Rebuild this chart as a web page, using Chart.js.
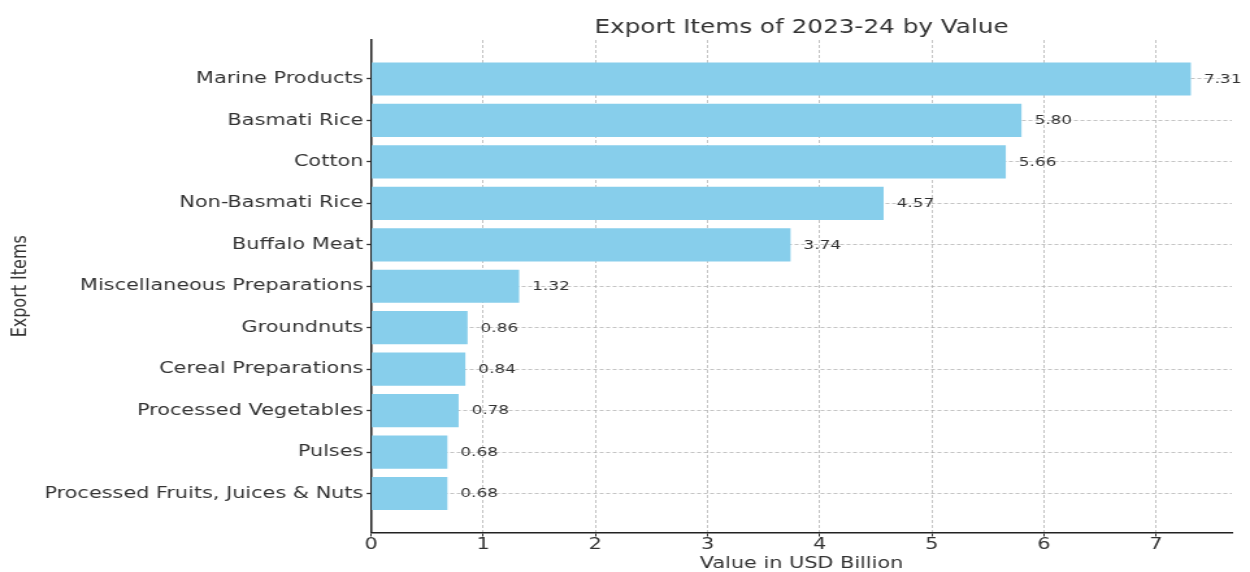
<!DOCTYPE html>
<html>
<head>
<meta charset="utf-8">
<script src="https://cdn.jsdelivr.net/npm/chart.js@4"></script>
<style>
html,body{margin:0;padding:0;background:#fff;overflow:hidden;}
#wrap{width:962px;height:572px;transform:scaleX(1.2994);transform-origin:0 0;}
</style>
</head>
<body>
<div id="wrap"><canvas id="c" width="962" height="572"></canvas></div>
<script>
const categories = ["Marine Products","Basmati Rice","Cotton","Non-Basmati Rice","Buffalo Meat","Miscellaneous Preparations","Groundnuts","Cereal Preparations","Processed Vegetables","Pulses","Processed Fruits, Juices & Nuts"];
const values = [7.31,5.80,5.66,4.57,3.74,1.32,0.86,0.84,0.78,0.68,0.68];
const xTicks = [0,1,2,3,4,5,6,7];
const title = "Export Items of 2023-24 by Value";
const xTitle = "Value in USD Billion";
const yTitle = "Export Items";

const FONT = "'DejaVu Sans', sans-serif";
const TXT = '#333';
const GRID = 'rgba(176,176,176,0.75)';

const labelPlugin = {
  id: 'barLabels',
  afterDraw(chart) {
    const ctx = chart.ctx;
    const meta = chart.getDatasetMeta(0);
    ctx.save();
    ctx.font = "13px " + FONT;
    ctx.fillStyle = TXT;
    ctx.textAlign = 'left';
    ctx.textBaseline = 'middle';
    meta.data.forEach((bar, i) => {
      ctx.fillText(values[i].toFixed(2), bar.x + 10, bar.y + 0.5);
    });
    ctx.restore();
  }
};

new Chart(document.getElementById('c'), {
  type: 'bar',
  data: {
    datasets: [{
      data: values.map((v, i) => ({x: v, y: i})),
      backgroundColor: '#87CEEB',
      borderWidth: 0,
      barPercentage: 0.8,
      categoryPercentage: 1.0
    }]
  },
  plugins: [labelPlugin],
  options: {
    indexAxis: 'y',
    responsive: false,
    animation: false,
    layout: {padding: {left: 6, right: 14, top: 16.6, bottom: 0}},
    plugins: {
      legend: {display: false},
      tooltip: {enabled: false},
      title: {display: true, fullSize: false, text: title, color: TXT, font: {family: FONT, size: 19, weight: 'normal', lineHeight: 1.2}, padding: {top: 0, bottom: 0.6}}
    },
    scales: {
      x: {
        type: 'linear',
        min: 0,
        max: Math.max(...values) * 1.05,
        offset: false,
        z: 1,
        afterBuildTicks: (axis) => { axis.ticks = xTicks.map(v => ({value: v})); },
        ticks: {color: TXT, font: {family: FONT, size: 16, lineHeight: 1.0}, padding: 0, callback: (v) => String(v)},
        grid: {color: GRID, offset: false, tickLength: 4, tickColor: '#333', tickBorderDash: [], tickWidth: 1},
        border: {display: true, color: '#222', width: 1.5, dash: [3, 2]},
        title: {display: true, text: xTitle, color: TXT, font: {family: FONT, size: 16, lineHeight: 1.0}, padding: {top: 3.5, bottom: 0}}
      },
      y: {
        type: 'linear',
        reverse: true,
        min: -0.94,
        max: 10.94,
        offset: false,
        z: 1,
        afterBuildTicks: (axis) => { axis.ticks = categories.map((_, i) => ({value: i})); },
        ticks: {color: TXT, font: {family: FONT, size: 16}, padding: 2.5, autoSkip: false, callback: (v) => categories[v]},
        grid: {color: GRID, offset: false, tickLength: 3.5, tickColor: '#333', tickBorderDash: [], tickWidth: 1.3},
        border: {display: true, color: '#222', width: 1.5, dash: [3, 2]},
        title: {display: true, text: yTitle, color: TXT, font: {family: FONT, size: 16}, padding: {top: 0, bottom: 6.5}}
      }
    }
  }
});
</script>
</body>
</html>
